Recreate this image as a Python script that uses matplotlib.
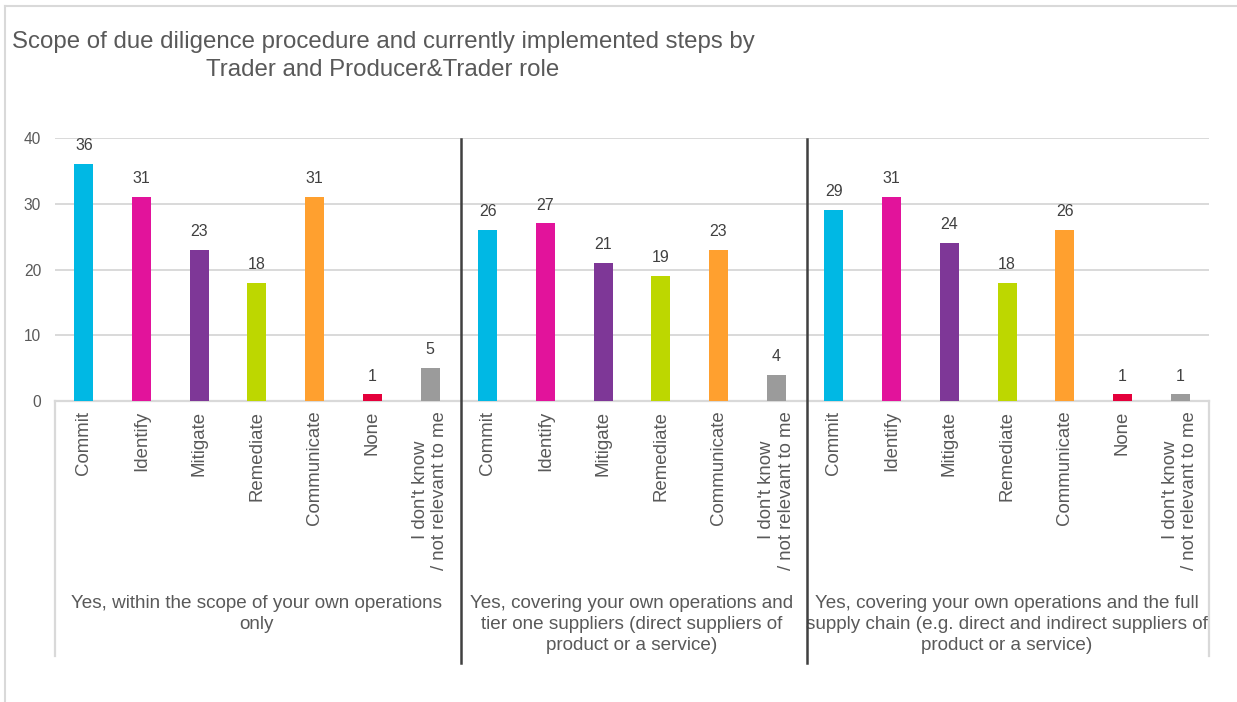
import matplotlib
matplotlib.use("Agg")
import matplotlib.pyplot as plt
from matplotlib.lines import Line2D

plt.rcParams['font.family'] = ['Liberation Sans', 'DejaVu Sans']

# ---- data ----
title = "Scope of due diligence procedure and currently implemented steps by\nTrader and Producer&Trader role"

group_names = [
    "Yes, within the scope of your own operations\nonly",
    "Yes, covering your own operations and\ntier one suppliers (direct suppliers of\nproduct or a service)",
    "Yes, covering your own operations and the full\nsupply chain (e.g. direct and indirect suppliers of\nproduct or a service)",
]

g1_steps = ["Commit", "Identify", "Mitigate", "Remediate", "Communicate", "None",
            "I don't know\n/ not relevant to me"]
g1_values = [36, 31, 23, 18, 31, 1, 5]

g2_steps = ["Commit", "Identify", "Mitigate", "Remediate", "Communicate",
            "I don't know\n/ not relevant to me"]
g2_values = [26, 27, 21, 19, 23, 4]

g3_steps = ["Commit", "Identify", "Mitigate", "Remediate", "Communicate", "None",
            "I don't know\n/ not relevant to me"]
g3_values = [29, 31, 24, 18, 26, 1, 1]

step_colors = {
    "Commit": "#00B8E4",
    "Identify": "#E2139B",
    "Mitigate": "#7E3797",
    "Remediate": "#BDD700",
    "Communicate": "#FFA02F",
    "None": "#E4003B",
    "I don't know\n/ not relevant to me": "#9B9B9B",
}

y_ticks = [0, 10, 20, 30, 40]

TEXT = "#595959"
GRID = "#D9D9D9"
DIVIDER = "#404040"

groups = [(g1_steps, g1_values), (g2_steps, g2_values), (g3_steps, g3_values)]

# ---- figure ----
W, H = 1237, 702
fig = plt.figure(figsize=(W / 100, H / 100), dpi=100)

def fx(px):
    return px / W

def fy(py):
    return 1 - py / H

ax = fig.add_axes([fx(55), fy(401), fx(1209) - fx(55), fy(138) - fy(401)])

labels, values, colors, bounds = [], [], [], []
for steps, vals in groups:
    start = len(labels)
    labels.extend(steps)
    values.extend(vals)
    colors.extend(step_colors[s] for s in steps)
    bounds.append((start, len(labels) - 1))

x = list(range(len(labels)))
ax.bar(x, values, width=0.33, color=colors, zorder=3)

for xi, v in zip(x, values):
    ax.annotate(str(v), (xi, v), xytext=(0, 10), textcoords="offset points",
                ha="center", va="baseline", fontsize=11.5, color="#404040")

ax.set_xlim(-0.5, len(labels) - 0.5)
ax.set_ylim(0, 40)
ax.set_yticks(y_ticks)
ax.tick_params(axis="y", length=0, labelsize=11.2, labelcolor=TEXT, pad=10)
ax.set_xticks(x)
ax.set_xticklabels(labels, rotation=90, fontsize=13.4, color=TEXT,
                   multialignment="center")
ax.tick_params(axis="x", length=0, pad=7)

ax.yaxis.grid(True, color=GRID, linewidth=1.4, zorder=0)
ax.set_axisbelow(True)
for side in ("top", "right", "left"):
    ax.spines[side].set_visible(False)
ax.spines["bottom"].set_color(GRID)
ax.spines["bottom"].set_linewidth(1.6)

# axes-fraction positions of pixel rows
ax_h = 401 - 138
def ay(py):
    return (401 - py) / ax_h

trans = ax.get_xaxis_transform()

# outer category brackets
for xb in (-0.5, len(labels) - 0.5):
    ax.add_line(Line2D([xb, xb], [0, ay(656)], transform=trans, color=GRID,
                       linewidth=1.6, clip_on=False))

# dark dividers between groups
for (s, e) in bounds[:-1]:
    xd = e + 0.53
    ax.add_line(Line2D([xd, xd], [ay(139), ay(663)], transform=trans,
                       color=DIVIDER, linewidth=1.8, clip_on=False, zorder=5))

# group captions
for name, (s, e) in zip(group_names, bounds):
    ax.text((s + e) / 2, ay(595), name, transform=trans, ha="center", va="top",
            fontsize=13.6, color=TEXT, multialignment="center", linespacing=1.3)

# title
fig.text(fx(383), fy(31), title, ha="center", va="top", fontsize=17.3,
         color=TEXT, multialignment="center", linespacing=1.33)

# chart frame
fig.add_artist(Line2D([fx(5), fx(5)], [fy(6), 0], transform=fig.transFigure,
                      color=GRID, linewidth=1.5))
fig.add_artist(Line2D([fx(5), 1], [fy(6), fy(6)], transform=fig.transFigure,
                      color=GRID, linewidth=1.5))

fig.savefig("out.png", dpi=100)
